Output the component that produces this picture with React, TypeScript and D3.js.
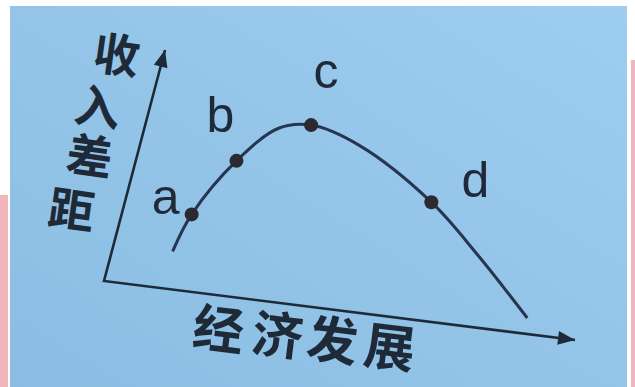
import React from "react"
import * as d3 from "d3"

// Data (abstract units, 0-10 on both axes)
const development = [1.25, 1.44, 2.07, 2.77, 3.41, 4.5, 6.3, 7.54, 8.9]
const incomeGap = [1.6, 3.25, 5.73, 7.33, 7.62, 7.03, 5.02, 3.05, 0.67]
const stageNames = ["a", "b", "c", "d"]
const stageIndex = [1, 2, 4, 6]
const yTitle = ["收", "入", "差", "距"]
const xTitle = ["经", "济", "发", "展"]

const App = () => {
  const totalW = 635
  const totalH = 387

  // photo is tilted / skewed: axes are not orthogonal on screen
  const origin = [104, 281]
  const ex = [471, 59]
  const ey = [61, -231]

  const xScale = d3.scaleLinear().domain([0, 10]).range([0, 1])
  const yScale = d3.scaleLinear().domain([0, 10]).range([0, 1])

  const project = (x: number, y: number): [number, number] => {
    const u = xScale(x)
    const v = yScale(y)
    return [origin[0] + u * ex[0] + v * ey[0], origin[1] + u * ex[1] + v * ey[1]]
  }

  const pts = development.map((d, i) => project(d, incomeGap[i]))
  const line = d3.line().curve(d3.curveCatmullRom.alpha(0.5))
  const [x0, y0] = project(0, 0)
  const [xTip, xTipY] = project(10, 0)
  const [yTipX, yTip] = project(0, 10)

  const arrow = (tx: number, ty: number, dx: number, dy: number) => {
    const len = Math.hypot(dx, dy)
    const ux = dx / len
    const uy = dy / len
    const L = 17
    const W = 7
    const bx = tx - ux * L
    const by = ty - uy * L
    return `M${tx},${ty} L${bx - uy * W},${by + ux * W} L${bx + uy * W},${by - ux * W} Z`
  }

  const labelOffsets = [
    [-26, 0],
    [-16, -29],
    [15, -37],
    [44, -5]
  ]
  const yCenters = [
    [117, 52],
    [98, 104],
    [90, 153],
    [72, 207]
  ]
  const xCenters = [
    [219, 326],
    [278, 332],
    [333, 337],
    [390, 344]
  ]
  const ink = "#1f2a38"

  return (
    <svg
      width={totalW}
      height={totalH}
      style={{ position: "absolute", left: 0, top: 0 }}
    >
      <defs>
        <linearGradient id="bg" x1="0" y1="1" x2="1" y2="0">
          <stop offset="0" stopColor="#8bbde2" />
          <stop offset="1" stopColor="#9dcdf0" />
        </linearGradient>
      </defs>
      <rect width={totalW} height={totalH} fill="#ffffff" />
      <rect x={0} y={195} width={8} height={192} fill="#f2b5bb" />
      <rect x={631} y={60} width={4} height={327} fill="#f2b5bb" />
      <rect x={10} y={6} width={617} height={totalH - 6} fill="url(#bg)" />

      {/* axes */}
      <path
        d={`M${yTipX},${yTip} L${x0},${y0} L${xTip},${xTipY}`}
        fill="none"
        stroke={ink}
        strokeWidth={2.6}
        strokeLinejoin="miter"
      />
      <path d={arrow(yTipX, yTip, ey[0], ey[1])} fill={ink} />
      <path d={arrow(xTip, xTipY, ex[0], ex[1])} fill={ink} />

      {/* curve */}
      <path d={line(pts) || ""} fill="none" stroke="#263650" strokeWidth={3} />
      {stageIndex.map((idx, i) => (
        <circle key={`m-${i}`} cx={pts[idx][0]} cy={pts[idx][1]} r={7} fill="#2b2a30" />
      ))}
      {stageIndex.map((idx, i) => (
        <text
          key={`l-${i}`}
          x={pts[idx][0] + labelOffsets[i][0]}
          y={pts[idx][1] + labelOffsets[i][1]}
          fontFamily="'Liberation Sans', Arial, sans-serif"
          fontSize="50px"
          fill={ink}
          textAnchor="middle"
        >
          {stageNames[i]}
        </text>
      ))}

      {/* axis titles */}
      {yTitle.map((c, i) => (
        <text
          key={`y-${i}`}
          x={yCenters[i][0]}
          y={yCenters[i][1]}
          fontFamily="'Noto Sans CJK SC', sans-serif"
          fontWeight={700}
          fontSize="46px"
          fill={ink}
          textAnchor="middle"
          dominantBaseline="central"
          transform={`rotate(8, ${yCenters[i][0]}, ${yCenters[i][1]})`}
        >
          {c}
        </text>
      ))}
      {xTitle.map((c, i) => (
        <text
          key={`x-${i}`}
          x={xCenters[i][0]}
          y={xCenters[i][1]}
          fontFamily="'Noto Sans CJK SC', sans-serif"
          fontWeight={700}
          fontSize="51px"
          fill={ink}
          textAnchor="middle"
          dominantBaseline="central"
          transform={`rotate(7, ${xCenters[i][0]}, ${xCenters[i][1]})`}
        >
          {c}
        </text>
      ))}
    </svg>
  )
}

export default App
